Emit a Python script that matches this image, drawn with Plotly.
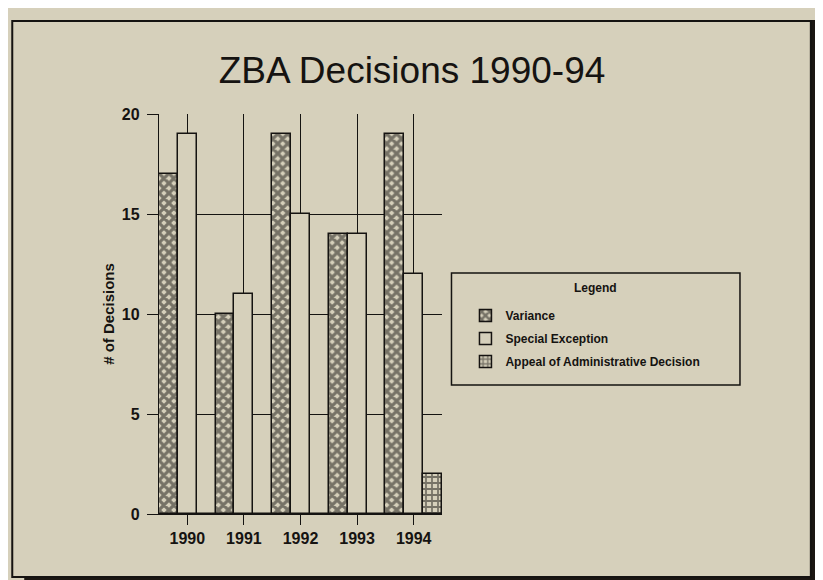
import plotly.graph_objects as go

W, H = 823, 580

years = ["1990", "1991", "1992", "1993", "1994"]
variance = [17, 10, 19, 14, 19]
special_exception = [19, 11, 15, 14, 12]
appeal = [0, 0, 0, 0, 2]
y_ticks = [0, 5, 10, 15, 20]

BG = "#d6d0bb"
INK = "#151311"
SHADOW = "#1b1612"

# plot area in pixels
L, R, T, B = 151, 434.5, 106, 506

def px(x):
    return (x - L) / (R - L)

def py(y):
    return (B - y) / (B - T)

fig = go.Figure()

fig.add_trace(go.Bar(
    x=years, y=variance, name="Variance",
    marker=dict(color=BG, line=dict(color=INK, width=1.5),
                pattern=dict(shape="x", size=7, solidity=0.7, fgcolor=INK, bgcolor=BG)),
    legendgroup="a",
))
fig.add_trace(go.Bar(
    x=years, y=special_exception, name="Special Exception",
    marker=dict(color=BG, line=dict(color=INK, width=1.5)),
    legendgroup="b",
))
fig.add_trace(go.Bar(
    x=years, y=appeal, name="Appeal of Administrative Decision",
    marker=dict(color=BG, line=dict(color=INK, width=1.5),
                pattern=dict(shape="+", size=6, solidity=0.5, fgcolor=INK, bgcolor=BG)),
    legendgroup="c",
))

shapes = [
    # drop shadow right and bottom
    dict(type="rect", xref="paper", yref="paper", x0=px(804), x1=px(823), y0=py(580), y1=py(12),
         fillcolor=SHADOW, line=dict(width=0), layer="below"),
    dict(type="rect", xref="paper", yref="paper", x0=px(16), x1=px(823), y0=py(580), y1=py(569),
         fillcolor=SHADOW, line=dict(width=0), layer="below"),
    # frame
    dict(type="rect", xref="paper", yref="paper", x0=px(4), x1=px(804), y0=py(569), y1=py(13),
         line=dict(color=INK, width=2), layer="below"),
    # legend box
    dict(type="rect", xref="paper", yref="paper", x0=px(444), x1=px(733), y0=py(377), y1=py(265),
         line=dict(color=INK, width=1.5), layer="above"),
]

annotations = [
    dict(text="<b>Legend</b>", xref="paper", yref="paper", x=px(588.5), y=py(280),
         xanchor="center", yanchor="middle", showarrow=False,
         font=dict(size=12, family="Liberation Sans, Arial", color=INK)),
]

fig.update_layout(
    width=W, height=H,
    margin=dict(l=L, r=W - R, t=T, b=H - B, pad=0),
    paper_bgcolor=BG, plot_bgcolor=BG,
    barmode="group", bargap=0, bargroupgap=0,
    title=dict(text="ZBA Decisions 1990-94", x=404 / W, xanchor="center",
               y=1 - 62 / H, yanchor="middle",
               font=dict(family="Liberation Sans, Arial", size=37, color=INK)),
    font=dict(family="Liberation Sans, Arial", color=INK),
    xaxis=dict(type="category", range=[-0.5, 4.5], showgrid=True, gridcolor=INK, gridwidth=1.4,
               ticks="outside", ticklen=10, tickwidth=1.4, tickcolor=INK,
               showline=True, linecolor=INK, linewidth=1.4,
               tickfont=dict(size=16, family="Liberation Sans, Arial", weight="bold", color=INK),
               fixedrange=True),
    yaxis=dict(range=[0, 20], tickvals=y_ticks, showgrid=True, gridcolor=INK, gridwidth=1.4,
               ticks="outside", ticklen=11, tickwidth=1.4, tickcolor=INK,
               showline=True, linecolor=INK, linewidth=1.4, zeroline=False,
               ticklabelstandoff=4,
               tickfont=dict(size=16, family="Liberation Sans, Arial", weight="bold", color=INK),
               title=dict(text="# of Decisions", standoff=3,
                          font=dict(size=15, family="Liberation Sans, Arial", weight="bold", color=INK)),
               fixedrange=True),
    legend=dict(x=px(458), y=py(293), xanchor="left", yanchor="top",
                bgcolor="rgba(0,0,0,0)", borderwidth=0,
                font=dict(size=12, weight="bold", color=INK),
                tracegroupgap=4, traceorder="grouped"),
    shapes=shapes,
    annotations=annotations,
    showlegend=True,
)

fig.write_html("out.html")
